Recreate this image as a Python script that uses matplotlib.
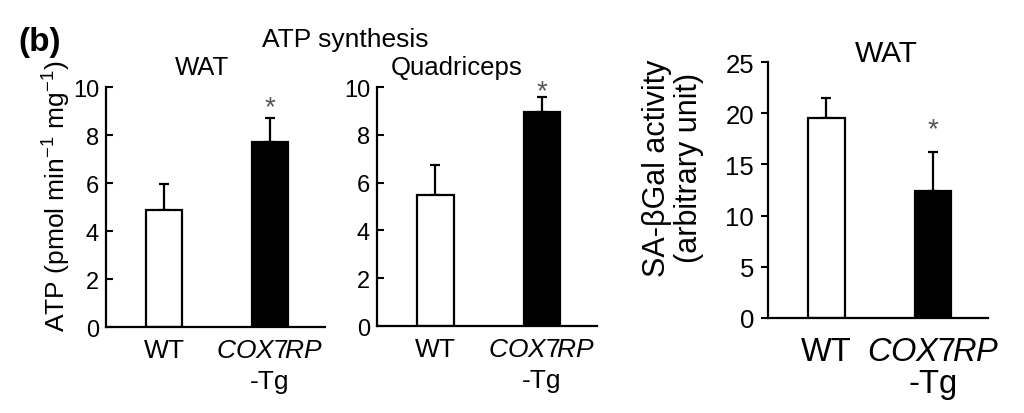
import matplotlib.pyplot as plt

plt.rcParams['font.family'] = ['Liberation Sans', 'DejaVu Sans']
plt.rcParams['mathtext.fontset'] = 'custom'
plt.rcParams['mathtext.rm'] = 'Liberation Sans'
plt.rcParams['mathtext.it'] = 'Liberation Sans:italic'
plt.rcParams['mathtext.default'] = 'regular'

# Data
groups = ['WT', r'$\mathit{COX7RP}$' + '\n-Tg']
atp_wat = [4.89, 7.72]
atp_wat_err = [1.07, 0.99]
atp_quad = [5.49, 8.97]
atp_quad_err = [1.24, 0.60]
sagal_wat = [19.55, 12.37]
sagal_wat_err = [1.95, 3.82]
bar_colors = ['white', 'black']

fig = plt.figure(figsize=(10.24, 4.14), dpi=100)

# axes rectangles in figure fraction
ax1 = fig.add_axes([0.1035, 0.2077, 0.2139, 0.5797])
ax2 = fig.add_axes([0.3682, 0.2101, 0.2148, 0.5773])
ax3 = fig.add_axes([0.7500, 0.2302, 0.2148, 0.6169])

# ax, values, errors, ymax, step, tick dir, ytick size, xtick size,
# xtick pad, xtick linespacing, title, title x, title y, title size, star offset
panels = [
    (ax1, atp_wat, atp_wat_err, 10, 2, 'in', 17, 19, 8, 1.35,
     'WAT', 0.44, 1.054, 18.5, 11),
    (ax2, atp_quad, atp_quad_err, 10, 2, 'in', 17, 19, 8, 1.35,
     'Quadriceps', 0.36, 1.054, 18.5, 6),
    (ax3, sagal_wat, sagal_wat_err, 25, 5, 'out', 18.5, 23.5, 13, 1.05,
     'WAT', 0.54, 1.005, 21.5, 23),
]

x = [0, 1]
for (ax, vals, errs, ymax, step, tdir, ytfs, xtfs, xpad, xls,
     title, tx, ty, tfs, star_off) in panels:
    ax.bar(x, vals, width=0.34, color=bar_colors, edgecolor='black',
           linewidth=1.6, zorder=2)
    ax.errorbar(x, vals, yerr=[[0, 0], errs], fmt='none', ecolor='black',
                elinewidth=1.6, capsize=3.5, capthick=1.6, zorder=1)
    ax.set_xlim(-0.55, 1.52)
    ax.set_ylim(0, ymax)
    ax.set_yticks(range(0, ymax + 1, step))
    ax.set_xticks(x)
    ax.set_xticklabels(groups, fontsize=xtfs)
    for lbl in ax.get_xticklabels():
        lbl.set_linespacing(xls)
    ax.tick_params(axis='x', length=0, pad=xpad)
    ax.tick_params(axis='y', direction=tdir, length=5, width=1.5,
                   labelsize=ytfs, pad=5)
    for s in ['top', 'right']:
        ax.spines[s].set_visible(False)
    for s in ['left', 'bottom']:
        ax.spines[s].set_linewidth(1.6)
    ax.text(tx, ty, title, transform=ax.transAxes, ha='center',
            va='baseline', fontsize=tfs)
    # significance star above the transgenic bar
    ax.annotate('*', xy=(1, vals[1] + errs[1]), xytext=(0, star_off),
                textcoords='offset pixels', ha='center', va='center',
                fontsize=20, color='#555555')

ax1.set_ylabel('ATP (pmol min$^{-1}$ mg$^{-1}$)', fontsize=19)
ax1.yaxis.set_label_coords(-0.15, 0.55)
ax3.set_ylabel('SA-\u03b2Gal activity\n(arbitrary unit)', fontsize=22,
               linespacing=1.1)
ax3.yaxis.set_label_coords(-0.29, 0.59)

fig.text(345 / 1024, 1 - 47 / 414, 'ATP synthesis', ha='center',
         va='baseline', fontsize=19)
fig.text(18 / 1024, 1 - 27 / 414, '(b)', ha='left', va='top',
         fontsize=24, fontweight='bold')

plt.savefig('out.png', dpi=100)
